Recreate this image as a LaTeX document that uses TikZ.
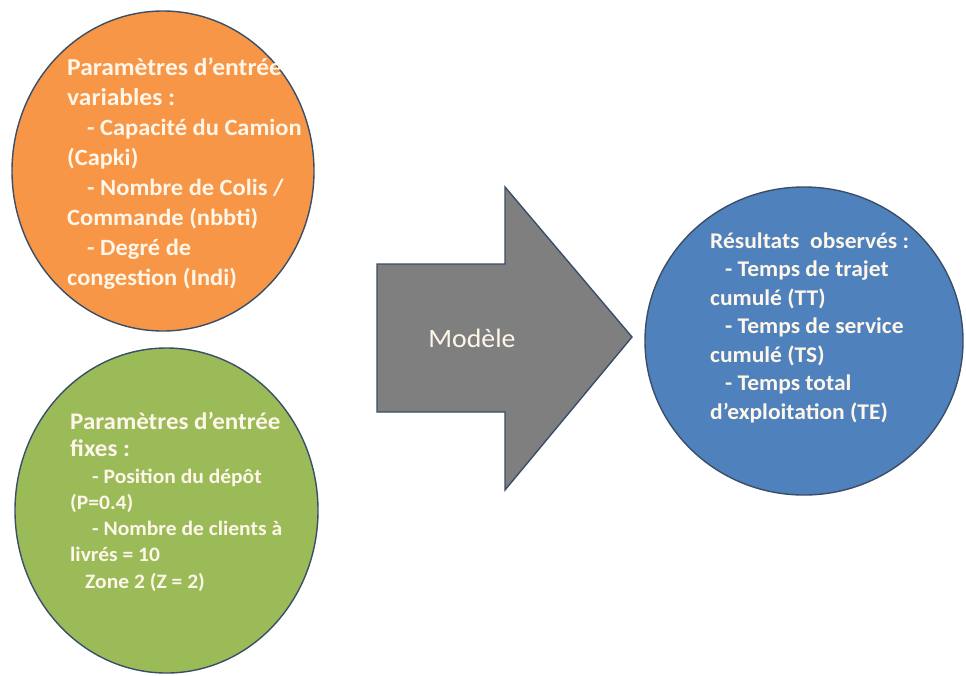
\documentclass[tikz,border=0pt]{standalone}
\usepackage{fontspec}
\setmainfont{Carlito}[FakeStretch=1.05]
\definecolor{orangefill}{HTML}{F79646}
\definecolor{greenfill}{HTML}{9BBB59}
\definecolor{bluefill}{HTML}{4F81BD}
\definecolor{grayfill}{HTML}{7F7F7F}
\definecolor{edgecol}{HTML}{3A4E68}
\definecolor{txtcol}{HTML}{FFF6EA}
\begin{document}
\begin{tikzpicture}[x=1pt,y=-1pt,
  blob/.style={draw=edgecol,line width=1.4pt},
  intext/.style={anchor=base west,align=left,inner sep=0pt,text=txtcol,font=\bfseries}]
\useasboundingbox (0,0) rectangle (966,675);
\fill[white] (0,0) rectangle (966,675);
% circles
\draw[blob,fill=orangefill] (163,171) ellipse [x radius=151,y radius=160];
\draw[blob,fill=greenfill] (166.5,510.5) ellipse [x radius=151.5,y radius=162.5];
\draw[blob,fill=bluefill] (804,341) ellipse [x radius=159,y radius=154];
% arrow
\draw[blob,fill=grayfill] (377,264) coordinate (a1) -- (505,264) -- (505,187) -- (632,337) coordinate (tip) -- (505,490) -- (505,412) -- (377,412) -- cycle;
\node[text=txtcol,font=\fontsize{26.5}{30}\selectfont,inner sep=0pt] (model) at (472,338) {Modèle};
% texts (anchored at the baseline of the last line)
\node[intext,font=\bfseries\fontsize{24.3}{30}\selectfont] (t1a) at (67,105)
 {Paramètres d’entrée\\variables :};
\node[intext,font=\bfseries\fontsize{23.3}{30}\selectfont] (t1) at (67,285)
 {\hspace*{20pt}- Capacité du Camion\\(Capki)\\\hspace*{20pt}- Nombre de Colis /\\Commande (nbbti)\\\hspace*{20pt}- Degré de\\congestion (Indi)};
\node[intext,font=\bfseries\fontsize{23.8}{26.5}\selectfont] (t2) at (70,456)
 {Paramètres d’entrée\\fixes :};
\node[intext,font=\bfseries\fontsize{20.5}{26.2}\selectfont] (t3) at (70,588)
 {\hspace*{22pt}- Position du dépôt\\(P=0.4)\\\hspace*{22pt}- Nombre de clients à\\livrés = 10\\\hspace*{15pt}Zone 2 (Z = 2)};
\node[intext,font=\bfseries\fontsize{22.4}{28.5}\selectfont] (t4) at (710,419)
 {Résultats\ \ observés :\\\hspace*{15pt}- Temps de trajet\\cumulé (TT)\\\hspace*{15pt}- Temps de service\\cumulé (TS)\\\hspace*{15pt}- Temps total\\d’exploitation (TE)};
\end{tikzpicture}
\end{document}
